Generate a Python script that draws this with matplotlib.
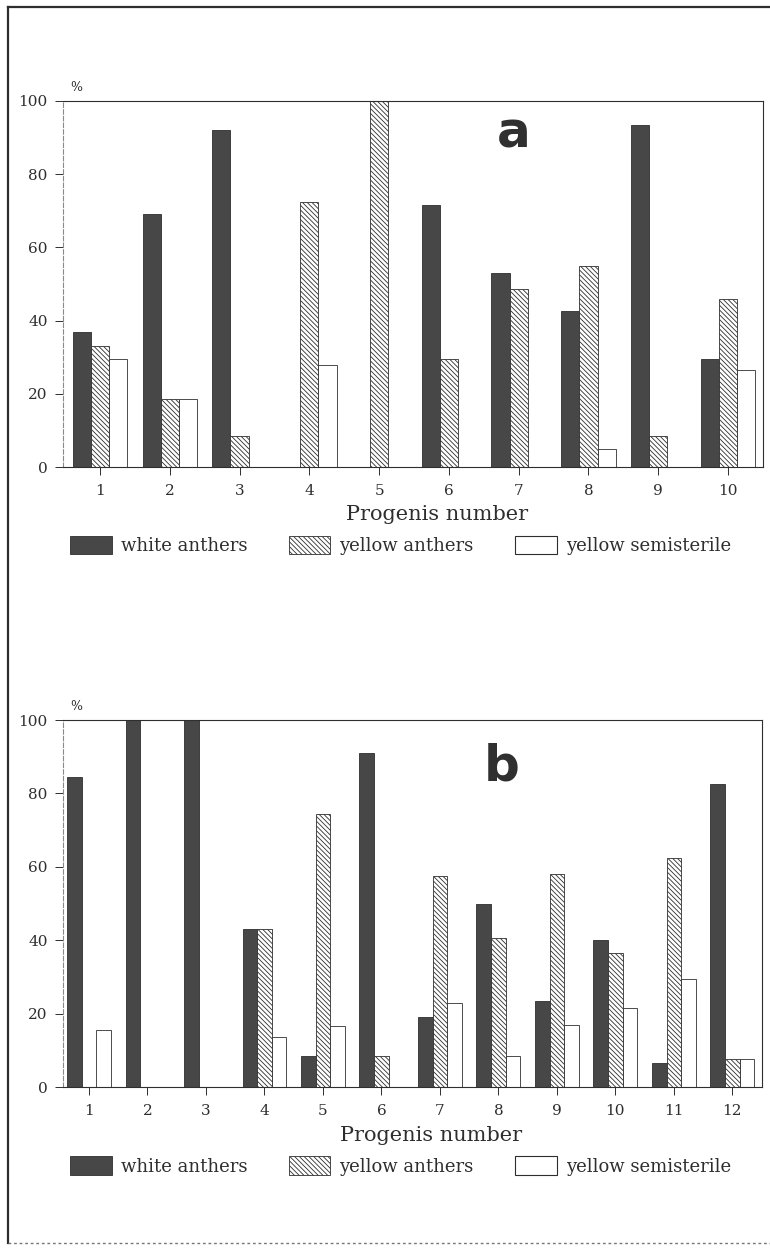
import matplotlib
matplotlib.use('Agg')
import matplotlib.pyplot as plt
import matplotlib.patches as mpatches
from matplotlib.lines import Line2D
import numpy as np

# panel a: progenies 1-10
progeny_a = list(range(1, 11))
white_a = [37, 69, 92, 0, 0, 71.5, 53, 42.5, 93.5, 29.5]
yellow_a = [33, 18.5, 8.5, 72.5, 100, 29.5, 48.5, 55, 8.5, 46]
semi_a = [29.5, 18.5, 0, 28, 0, 0, 0, 5, 0, 26.5]

# panel b: progenies 1-12
progeny_b = list(range(1, 13))
white_b = [84.5, 100, 100, 43, 8.5, 91, 19, 50, 23.5, 40, 6.5, 82.5]
yellow_b = [0, 0, 0, 43, 74.5, 8.5, 57.5, 40.5, 58, 36.5, 62.5, 7.5]
semi_b = [15.5, 0, 0, 13.5, 16.5, 0, 23, 8.5, 17, 21.5, 29.5, 7.5]

series_names = ['white anthers', 'yellow anthers', 'yellow semisterile']
yticks = [0, 20, 40, 60, 80, 100]

INK = '#2e2e2e'
DARK = '#474747'
HATCH = '\\' * 7

plt.rcParams['hatch.linewidth'] = 0.6
plt.rcParams['hatch.color'] = INK
plt.rcParams['font.family'] = 'DejaVu Serif'

fig = plt.figure(figsize=(7.7, 12.48), dpi=100)


def draw_panel(rect, progeny, white, yellow, semi, width, xlim, letter, letter_xy, label_x, legend_y):
    ax = fig.add_axes(rect)
    x = np.array(progeny, dtype=float)
    ax.bar(x - width, white, width, color=DARK, edgecolor=INK, linewidth=0.6)
    ax.bar(x, yellow, width, color='white', edgecolor=INK, linewidth=0.6, hatch=HATCH)
    ax.bar(x + width, semi, width, color='white', edgecolor=INK, linewidth=0.6)
    ax.set_xlim(*xlim)
    ax.set_ylim(0, 100)
    ax.set_xticks(progeny)
    ax.set_yticks(yticks)
    ax.tick_params(axis='both', direction='out', length=6, width=0.7, color=INK,
                   labelsize=11, labelcolor=INK)
    ax.tick_params(axis='y', pad=5)
    ax.tick_params(axis='x', pad=6)
    for sp in ax.spines.values():
        sp.set_color(INK)
        sp.set_linewidth(0.8)
    ax.spines['left'].set_color('#8a8a8a')
    ax.spines['left'].set_linestyle((0, (4, 2)))
    ax.set_xlabel('Progenis number', fontsize=15, color=INK)
    ax.xaxis.set_label_coords(label_x, -0.105)
    ax.text(0.01, 1.02, '%', transform=ax.transAxes, fontsize=9, color=INK, ha='left', va='bottom')
    ax.text(letter_xy[0], letter_xy[1], letter, transform=ax.transAxes, fontsize=36,
            fontweight='bold', family='DejaVu Sans', color='#303030', ha='center', va='center')
    handles = [
        mpatches.Patch(facecolor=DARK, edgecolor=INK, linewidth=0.6),
        mpatches.Patch(facecolor='white', edgecolor=INK, linewidth=0.6, hatch=HATCH),
        mpatches.Patch(facecolor='white', edgecolor=INK, linewidth=0.8),
    ]
    fig.legend(handles, series_names, loc='center', bbox_to_anchor=(0.52, legend_y), ncol=3,
               frameon=False, fontsize=13, handlelength=2.3, handleheight=1.2,
               columnspacing=2.3, handletextpad=0.5, labelcolor=INK)
    return ax


draw_panel([0.0818, 0.6258, 0.909, 0.2933], progeny_a, white_a, yellow_a, semi_a,
           0.26, (0.47, 10.5), 'a', ((514 - 63) / 700, (467 - 134) / 366), 0.534, 0.563)
draw_panel([0.0818, 0.129, 0.908, 0.294], progeny_b, white_b, yellow_b, semi_b,
           0.25, (0.555, 12.51), 'b', ((502 - 63) / 699, (1087 - 766) / 367), 0.527, 0.0657)

# page frame of the scanned figure: left, top and bottom edges
frame_x = [8 / 770, 8 / 770, 1.0]
frame_y = [1 - 1243 / 1248, 1 - 7 / 1248, 1 - 7 / 1248]
fig.add_artist(Line2D([frame_x[0], frame_x[1]], [frame_y[0], frame_y[1]], color=INK, linewidth=1.6))
fig.add_artist(Line2D([frame_x[1], frame_x[2]], [frame_y[1], frame_y[2]], color=INK, linewidth=1.6))
fig.add_artist(Line2D([frame_x[0], 1.0], [frame_y[0], frame_y[0]], color='#777777', linewidth=1.0,
                      linestyle=(0, (2, 2))))

fig.savefig('out.png', dpi=100)
